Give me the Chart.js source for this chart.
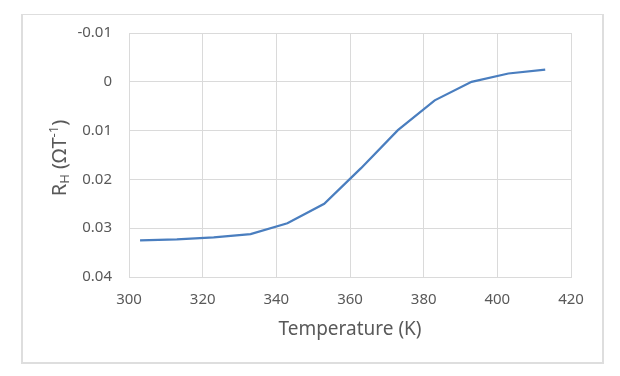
<!DOCTYPE html>
<html>
<head>
<meta charset="utf-8">
<script src="https://cdn.jsdelivr.net/npm/chart.js@4/dist/chart.umd.min.js"></script>
<style>
  html, body { margin: 0; padding: 0; background: #ffffff; }
  #wrap { position: relative; width: 620px; height: 376px; }
  #frame { position: absolute; left: 21px; top: 14px; width: 579px; height: 347px; border: 2px solid #dedede; border-top-width: 1px; }
  canvas { position: absolute; left: 0; top: 0; }
</style>
</head>
<body>
<div id="wrap">
  <div id="frame"></div>
  <canvas id="c" width="620" height="376"></canvas>
</div>
<script>
// Data
const temperatures = [303, 313, 323, 333, 343, 353, 363, 373, 383, 393, 403, 413];
const hallCoefficient = [0.0325, 0.0323, 0.0319, 0.0312, 0.0290, 0.0250, 0.0177, 0.0099, 0.0038, 0.0000, -0.0017, -0.0025];
const xTickValues = [300, 320, 340, 360, 380, 400, 420];
const yTickLabels = ['-0.01', '0', '0.01', '0.02', '0.03', '0.04'];
const xTitle = 'Temperature (K)';
const yTitleParts = [
  { text: 'R', kind: 'normal' },
  { text: 'H', kind: 'sub' },
  { text: ' (ΩT', kind: 'normal' },
  { text: '-1', kind: 'sup' },
  { text: ')', kind: 'normal' }
];

const FONT = '"Noto Sans", "Open Sans", sans-serif';
const TEXT_COLOR = '#595959';
const GRID_COLOR = '#dadada';

const points = temperatures.map((t, i) => ({ x: t, y: hallCoefficient[i] }));

const yTitlePlugin = {
  id: 'yTitle',
  afterDraw(chart) {
    const ctx = chart.ctx;
    const area = chart.chartArea;
    const big = 20, small = 13;
    const cy = (area.top + area.bottom) / 2 + 3;
    const cx = 59;
    ctx.save();
    ctx.fillStyle = TEXT_COLOR;
    ctx.textBaseline = 'alphabetic';
    ctx.textAlign = 'left';
    let total = 0;
    for (const p of yTitleParts) {
      ctx.font = (p.kind === 'normal' ? big : small) + 'px ' + FONT;
      total += ctx.measureText(p.text).width;
    }
    ctx.translate(cx, cy);
    ctx.rotate(-Math.PI / 2);
    let x = -total / 2;
    const base = big * 0.36;
    for (const p of yTitleParts) {
      ctx.font = (p.kind === 'normal' ? big : small) + 'px ' + FONT;
      let dy = base;
      if (p.kind === 'sub') dy = base + 3;
      if (p.kind === 'sup') dy = base - 8;
      ctx.fillText(p.text, x, dy);
      x += ctx.measureText(p.text).width;
    }
    ctx.restore();
  }
};

new Chart(document.getElementById('c'), {
  type: 'line',
  data: {
    datasets: [{
      data: points,
      borderColor: '#4a7ebf',
      backgroundColor: '#4a7ebf',
      borderWidth: 2.25,
      pointRadius: 0,
      tension: 0,
      fill: false
    }]
  },
  options: {
    responsive: false,
    animation: false,
    layout: { padding: { left: 0, top: 33, right: 49, bottom: 0 } },
    plugins: { legend: { display: false }, tooltip: { enabled: false } },
    scales: {
      x: {
        type: 'linear',
        min: xTickValues[0],
        max: xTickValues[xTickValues.length - 1],
        afterBuildTicks(scale) { scale.ticks = xTickValues.map(v => ({ value: v })); },
        afterFit(scale) { scale.height = 99; },
        grid: { color: GRID_COLOR, lineWidth: 1, drawTicks: false },
        border: { color: GRID_COLOR },
        ticks: {
          color: TEXT_COLOR,
          font: { family: FONT, size: 15 },
          padding: 14,
          maxRotation: 0,
          callback: (v) => String(v)
        },
        title: {
          display: true,
          text: xTitle,
          color: TEXT_COLOR,
          font: { family: FONT, size: 19 },
          padding: { top: 0, bottom: 35 }
        }
      },
      y: {
        type: 'linear',
        reverse: true,
        min: -0.01,
        max: 0.04,
        afterBuildTicks(scale) { scale.ticks = yTickLabels.map(s => ({ value: parseFloat(s) })); },
        afterFit(scale) { scale.width = 129; },
        grid: { color: GRID_COLOR, lineWidth: 1, drawTicks: false },
        border: { color: GRID_COLOR },
        ticks: {
          color: TEXT_COLOR,
          font: { family: FONT, size: 15 },
          padding: 17,
          callback: (v, i) => yTickLabels[i]
        }
      }
    }
  },
  plugins: [yTitlePlugin]
});
</script>
</body>
</html>
